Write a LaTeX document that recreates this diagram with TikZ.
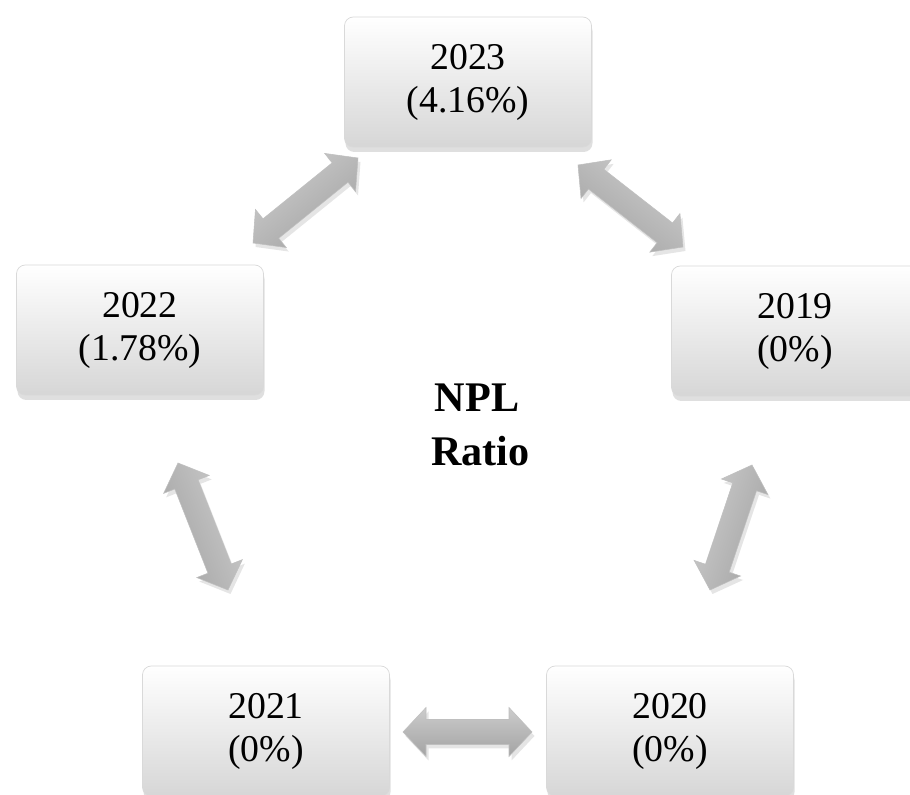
\documentclass[tikz,border=0pt]{standalone}
\usepackage{fontspec}
\setmainfont{Liberation Serif}
\usetikzlibrary{calc,shadows}
\tikzset{
  yearbox/.style={rectangle, rounded corners=5pt, minimum width=4.94cm, minimum height=2.6cm,
    draw=gray!30, line width=0.4pt, top color=white, bottom color=gray!32,
    drop shadow={opacity=0.25, shadow xshift=0.02cm, shadow yshift=-0.1cm},
    align=center, font=\fontsize{21.5}{24.5}\selectfont, text=black},
  centertext/.style={align=center, font=\bfseries\fontsize{24}{31}\selectfont, text=black},
  blockarrow/.style={draw=gray!50, line width=0.3pt, line join=miter,
    drop shadow={opacity=0.2, shadow xshift=0.05cm, shadow yshift=-0.08cm}}
}
% #1,#2: end coordinates; #3: shading angle
\newcommand\bidirarrow[3]{%
  \coordinate (#1h) at ($(#1)!0.46cm!(#2)$);
  \coordinate (#2h) at ($(#2)!0.46cm!(#1)$);
  \path[blockarrow, top color=gray!40, bottom color=gray!72, shading angle=#3]
    (#1) -- ($(#1h)!0.49cm!90:(#2)$) -- ($(#1h)!0.25cm!90:(#2)$)
    -- ($(#2h)!0.25cm!-90:(#1)$) -- ($(#2h)!0.49cm!-90:(#1)$)
    -- (#2) -- ($(#2h)!0.49cm!90:(#1)$) -- ($(#2h)!0.25cm!90:(#1)$)
    -- ($(#1h)!0.25cm!-90:(#2)$) -- ($(#1h)!0.49cm!-90:(#2)$) -- cycle;
}
\begin{document}
\begin{tikzpicture}
\useasboundingbox (0,0) rectangle (18.2,15.9);
\fill[white] (0,0) rectangle (18.2,15.9);
\begin{scope}
\clip (0,0) rectangle (18.2,15.9);
\node[yearbox] (y2023) at (9.36,14.26) {2023\\(4.16\%)};
\node[yearbox] (y2022) at (2.80,9.30) {2022\\(1.78\%)};
\node[yearbox] (y2019) at (15.90,9.28) {2019\\(0\%)};
\node[yearbox] (y2021) at (5.32,1.28) {2021\\(0\%)};
\node[yearbox] (y2020) at (13.40,1.28) {2020\\(0\%)};
\node[centertext] (npl) at (9.54,7.40) {NPL\\\,Ratio};

\coordinate (a1s) at (5.06,11.04); \coordinate (a1e) at (7.16,12.74);
\coordinate (a2s) at (11.56,12.60); \coordinate (a2e) at (13.66,10.96);
\coordinate (a3s) at (3.56,6.64); \coordinate (a3e) at (4.56,4.10);
\coordinate (a4s) at (15.04,6.60); \coordinate (a4e) at (14.20,4.10);
\coordinate (a5s) at (8.06,1.26); \coordinate (a5e) at (10.64,1.26);
\bidirarrow{a1s}{a1e}{39}
\bidirarrow{a2s}{a2e}{-38}
\bidirarrow{a3s}{a3e}{-68}
\bidirarrow{a4s}{a4e}{71}
\bidirarrow{a5s}{a5e}{0}
\end{scope}
\end{tikzpicture}
\end{document}
